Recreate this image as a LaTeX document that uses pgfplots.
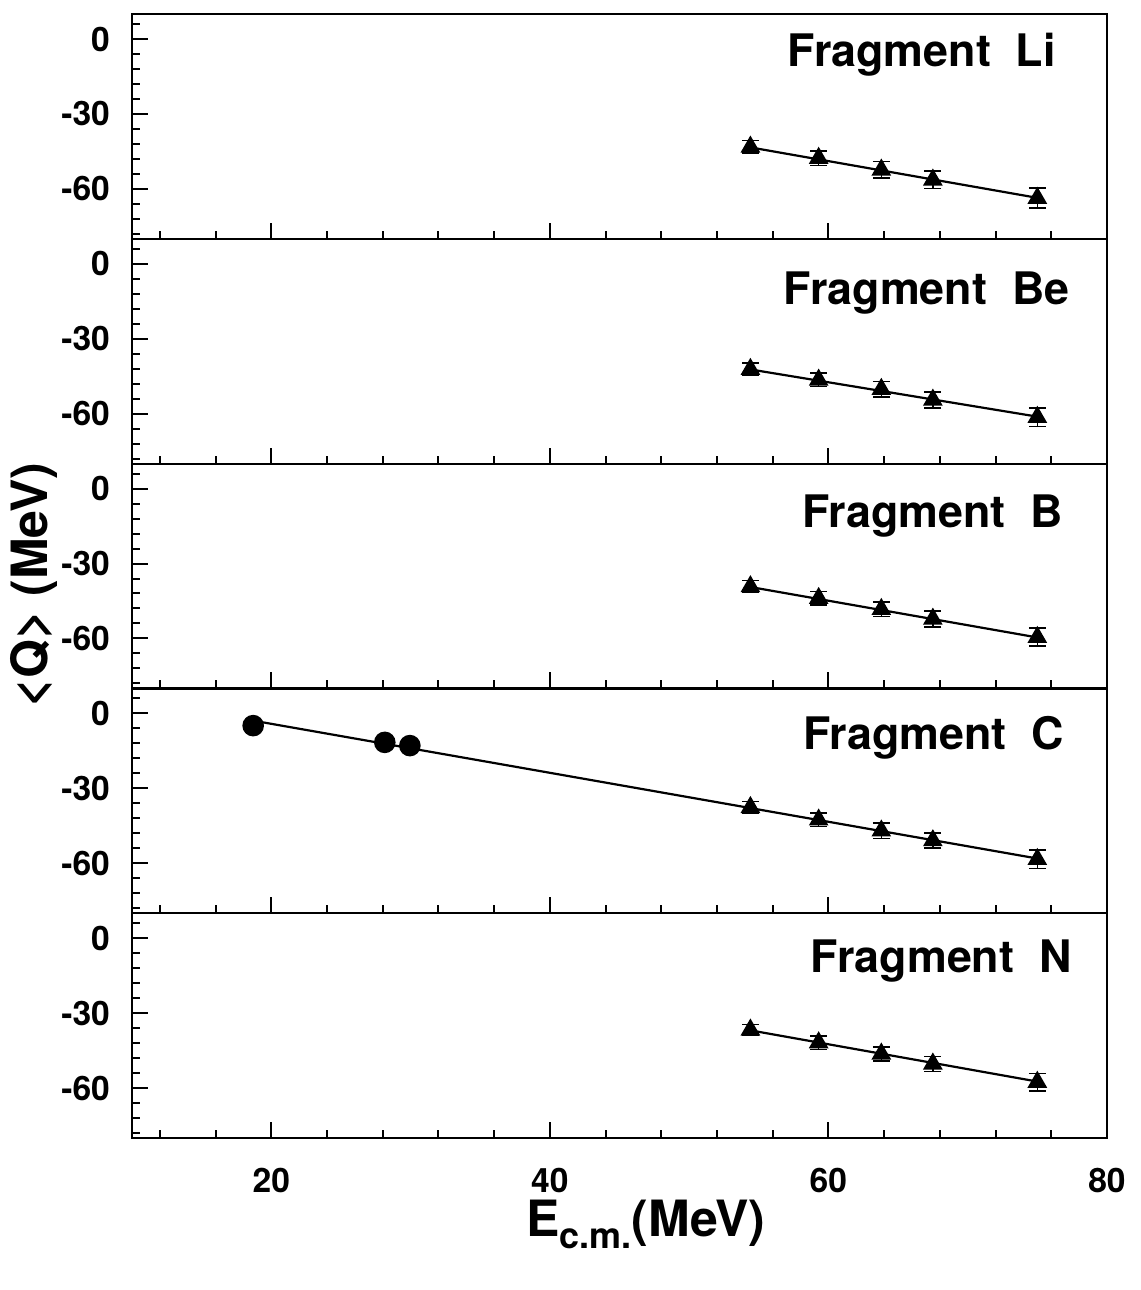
\documentclass[border=0pt]{standalone}
\usepackage{fontspec}
\setmainfont{TeX Gyre Heros}
\usepackage{pgfplots}
\pgfplotsset{compat=1.18}
\pgfplotsset{
  panel/.style={
    scale only axis, width=243.75pt, height=56.2pt,
    xmin=10, xmax=80, ymin=-80, ymax=10,
    axis line style={line width=0.55pt},
    tick style={line width=0.5pt, black},
    tick align=inside, xtick pos=lower, ytick pos=left,
    major tick length=4pt, minor tick length=2pt,
    xtick={20,40,60,80}, xticklabels={},
    minor xtick={12,16,24,28,32,36,44,48,52,56,64,68,72,76},
    ytick={-60,-30,0}, yticklabels={-60,-30,0},
    minor ytick={-78,-72,-66,-54,-48,-42,-36,-24,-18,-12,-6,6},
    /pgf/number format/assume math mode=true,
    every tick label/.append style={font=\fontsize{8.4}{10}\selectfont\bfseries},
    yticklabel style={xshift=-2.0pt},
    xticklabel style={yshift=-4.0pt},
    anchor=north west, clip=false,
  },
  dat/.style={only marks, mark=triangle*, mark size=2.45pt, black,
    error bars/.cd, y dir=both, y explicit,
    error bar style={line width=0.4pt, black},
    error mark options={line width=0.4pt, mark size=2.1pt, rotate=90, black}},
  fit/.style={no marks, black, line width=0.55pt},
}
\newcommand{\frag}[1]{\fontsize{11.2}{13}\selectfont\bfseries Fragment\ \ #1}
\begin{document}
\begin{tikzpicture}
% Li
\begin{axis}[panel, at={(0pt,0pt)}]
\addplot[fit] coordinates {(54.4,-43.4) (75,-63.6)};
\addplot[dat] coordinates {(54.4,-43.2) +- (0,2.5) (59.3,-47.7) +- (0,2.9) (63.8,-52.4) +- (0,3.3) (67.5,-56.4) +- (0,3.5) (75.0,-63.7) +- (0,4.0)};
\node[anchor=base] at (rel axis cs:0.810,0.766) {\frag{Li}};
\end{axis}
% Be
\begin{axis}[panel, at={(0pt,-56.2pt)}]
\addplot[fit] coordinates {(54.4,-42.3) (75,-61.2)};
\addplot[dat] coordinates {(54.4,-42.2) +- (0,2.5) (59.3,-46.5) +- (0,2.7) (63.8,-50.2) +- (0,3.1) (67.5,-54.5) +- (0,3.2) (75.0,-61.4) +- (0,3.7)};
\node[anchor=base] at (rel axis cs:0.815,0.706) {\frag{Be}};
\end{axis}
% B
\begin{axis}[panel, at={(0pt,-112.4pt)}]
\addplot[fit] coordinates {(54.4,-39.4) (75,-59.6)};
\addplot[dat] coordinates {(54.4,-39.2) +- (0,2.4) (59.3,-43.9) +- (0,2.7) (63.8,-48.3) +- (0,2.9) (67.5,-52.2) +- (0,3.2) (75.0,-59.5) +- (0,3.6)};
\node[anchor=base] at (rel axis cs:0.821,0.716) {\frag{B}};
\end{axis}
% C
\begin{axis}[panel, at={(0pt,-168.6pt)}]
\addplot[fit] coordinates {(18.7,-2.9) (75,-58.1)};
\addplot[dat] coordinates {(54.4,-37.6) +- (0,2.3) (59.3,-42.6) +- (0,2.7) (63.8,-47.0) +- (0,3.1) (67.5,-50.9) +- (0,3.1) (75.0,-58.4) +- (0,3.7)};
\addplot[only marks, mark=*, mark size=2.5pt, black] coordinates {(18.7,-4.9) (28.15,-11.6) (29.95,-12.9)};
\node[anchor=base] at (rel axis cs:0.822,0.730) {\frag{C}};
\end{axis}
% N
\begin{axis}[panel, at={(0pt,-224.8pt)}, xticklabels={20,40,60,80}]
\addplot[fit] coordinates {(54.4,-36.9) (75,-57.4)};
\addplot[dat] coordinates {(54.4,-36.7) +- (0,2.1) (59.3,-41.8) +- (0,2.7) (63.8,-46.3) +- (0,2.8) (67.5,-50.3) +- (0,3.0) (75.0,-57.6) +- (0,3.5)};
\node[anchor=base] at (rel axis cs:0.830,0.738) {\frag{N}};
\end{axis}
\node[rotate=90, font=\fontsize{12.5}{14}\selectfont\bfseries] at (-24.5pt,-142.75pt) {<Q> (MeV)};
\node[font=\fontsize{12.5}{14}\selectfont\bfseries] at (128.5pt,-302.5pt) {E\raisebox{-0.45ex}{\fontsize{9}{10}\selectfont c.m.}(MeV)};
\pgfresetboundingbox
\useasboundingbox (-33pt,3.5pt) rectangle (252pt,-319pt);
\end{tikzpicture}
\end{document}
